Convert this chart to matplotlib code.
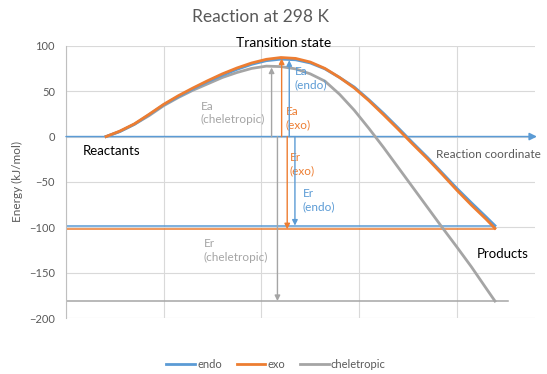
import matplotlib
matplotlib.use('Agg')
import matplotlib.pyplot as plt

plt.rcParams['font.family'] = ['Lato', 'DejaVu Sans']

# reaction profiles (x in arbitrary reaction-coordinate units)
x_profile = [0.41, 0.55, 0.70, 0.85, 1.00, 1.15, 1.30, 1.45, 1.60, 1.75,
             1.90, 2.05, 2.20, 2.35, 2.50, 2.65, 2.80, 2.95, 3.10, 3.25,
             3.40, 3.55, 3.70, 3.85, 4.00, 4.15, 4.30, 4.39]
endo = [0, 5.5, 13.5, 24, 35, 44, 52.5, 60.5, 67.5, 74,
        79.5, 83.5, 85.2, 84.5, 81, 74.5, 65, 54.5, 40.5, 25.5,
        9.5, -7, -23, -40, -57, -73, -88.5, -98]
exo = [0, 6, 14, 24.5, 35.5, 45, 53.5, 61.5, 69, 75.5,
       81, 85, 87, 86, 82, 75, 65, 53.5, 39.5, 24,
       8, -8.5, -24.5, -41.5, -59, -75.5, -91, -101]
cheletropic = [0, 5.5, 13.5, 23, 34, 43, 51, 58, 65, 70.5,
               75, 77.5, 77, 74.5, 69, 61, 46.5, 29, 9, -12,
               -34, -56, -78, -100, -121.5, -143.5, -167, -181]

# product energy levels
level_names = ['endo', 'exo', 'cheletropic']
level_energy = [-98, -102, -181]
level_end = [4.39, 4.39, 4.52]

# activation / reaction energy arrows
ea_x = [2.285, 2.207, 2.104]
ea_tip = [84, 86, 76]
er_x = [2.343, 2.264, 2.164]
er_tip = [-98, -102, -181]

colors = {'endo': '#5B9BD5', 'exo': '#ED7D31', 'cheletropic': '#A5A5A5'}

fig = plt.figure(figsize=(5.47, 3.74), dpi=100)
ax = fig.add_axes([66 / 547, 1 - 318.3 / 374, 469 / 547, 272.6 / 374])

ax.set_xlim(0, 4.8)
ax.set_ylim(-200, 100)
ax.set_xticks([0, 1, 2, 3, 4])
ax.set_xticklabels([])
ax.set_yticks(range(-200, 101, 50))
ax.tick_params(length=0, labelsize=8, labelcolor='#595959', pad=8)
ax.grid(True, color='#D9D9D9', lw=0.8)
ax.set_axisbelow(True)
for side in ['top', 'right', 'bottom']:
    ax.spines[side].set_visible(False)
ax.spines['left'].set_color('#BFBFBF')
ax.set_ylabel('Energy (kJ/mol)', fontsize=8.5, color='#595959')
ax.yaxis.set_label_coords(-0.092, 0.5)

# horizontal levels
for name, e, xe in zip(level_names, level_energy, level_end):
    ax.plot([0, xe], [e, e], color=colors[name], lw=1.1, zorder=2)

# reaction coordinate axis with arrow
ax.annotate('', xy=(4.82, 0), xytext=(0, 0), annotation_clip=False,
            arrowprops=dict(arrowstyle='-|>', color=colors['endo'], lw=1.1,
                            mutation_scale=11, shrinkA=0, shrinkB=0))

# curves
ax.plot(x_profile, cheletropic, color=colors['cheletropic'], lw=2,
        label='cheletropic', zorder=3, solid_joinstyle='round')
ax.plot(x_profile, endo, color=colors['endo'], lw=2, label='endo', zorder=4,
        solid_joinstyle='round')
ax.plot(x_profile, exo, color=colors['exo'], lw=2, label='exo', zorder=4,
        solid_joinstyle='round')

# arrows
for name, xa, tip in zip(level_names, ea_x, ea_tip):
    ax.annotate('', xy=(xa, tip), xytext=(xa, 0),
                arrowprops=dict(arrowstyle='-|>', color=colors[name], lw=1,
                                mutation_scale=8, shrinkA=0, shrinkB=0), zorder=5)
for name, xa, tip in zip(level_names, er_x, er_tip):
    ax.annotate('', xy=(xa, tip), xytext=(xa, 0),
                arrowprops=dict(arrowstyle='-|>', color=colors[name], lw=1,
                                mutation_scale=8, shrinkA=0, shrinkB=0), zorder=5)

# labels
lab_kw = dict(fontsize=8.5, va='top', ha='left', linespacing=1.25)
ax.text(2.343, 78, 'Ea\n(endo)', color=colors['endo'], **lab_kw)
ax.text(2.248, 34, 'Ea\n(exo)', color=colors['exo'], **lab_kw)
ax.text(1.378, 39, 'Ea\n(cheletropic)', color=colors['cheletropic'], **lab_kw)
ax.text(2.288, -16.5, 'Er\n(exo)', color=colors['exo'], **lab_kw)
ax.text(2.421, -57, 'Er\n(endo)', color=colors['endo'], **lab_kw)
ax.text(1.412, -112, 'Er\n(cheletropic)', color=colors['cheletropic'], **lab_kw)

ax.text(2.23, 103, 'Transition state', fontsize=10, color='black',
        ha='center', va='center', clip_on=False)
ax.text(0.171, -16, 'Reactants', fontsize=9.5, color='black', va='center')
ax.text(3.785, -20, 'Reaction coordinate', fontsize=8.5, color='#595959',
        va='center', clip_on=False)
ax.text(4.20, -129, 'Products', fontsize=9.5, color='black', va='center')

fig.text(261 / 547, 1 - 17.5 / 374, 'Reaction at 298 K', fontsize=12.5,
         color='#595959', ha='center', va='center')

handles, labels = ax.get_legend_handles_labels()
order = [1, 2, 0]
fig.legend([handles[i] for i in order], [labels[i] for i in order],
           loc='center', bbox_to_anchor=(276 / 547, 1 - 364 / 374), ncol=3,
           frameon=False, fontsize=8, labelcolor='#595959', handlelength=2.6,
           handletextpad=0.2, columnspacing=1.3)

fig.savefig('out.png', dpi=100)
